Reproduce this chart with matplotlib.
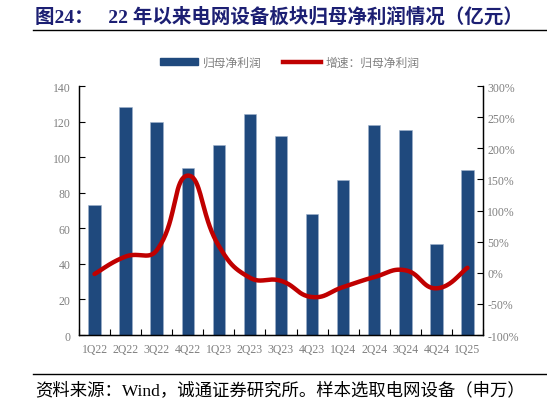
import numpy as np
import matplotlib.pyplot as plt
from matplotlib.lines import Line2D
from matplotlib.patches import Patch

quarters = ['1Q22', '2Q22', '3Q22', '4Q22', '1Q23', '2Q23', '3Q23',
            '4Q23', '1Q24', '2Q24', '3Q24', '4Q24', '1Q25']
profit = [73, 128, 120, 94, 107, 124, 112, 68, 87, 118, 115, 51, 93]
growth = [-2, 26, 36, 156, 43, -8, -13, -39, -23, -7, 4, -25, 8]

left_ticks = [0, 20, 40, 60, 80, 100, 120, 140]
right_ticks = [-100, -50, 0, 50, 100, 150, 200, 250, 300]

cjk = ['Liberation Serif', 'Noto Sans CJK SC']
sans = ['Noto Sans CJK SC', 'DejaVu Sans']
grey = '#808080'
bar_color = '#1F497D'
line_color = '#C00000'


def smooth_line(ax, x, y, k=0.46, n=40):
    # bezier smoothing done in screen space, control points scaled by
    # the length of the neighbouring segments (office style smooth line)
    pts = ax.transData.transform(np.column_stack([x, y]))
    m = len(pts)
    d = np.linalg.norm(np.diff(pts, axis=0), axis=1)
    out_cp = np.zeros_like(pts)
    in_cp = np.zeros_like(pts)
    for i in range(m):
        if i == 0:
            tang = pts[1] - pts[0]
            out_cp[i] = pts[i] + tang * k * 0.5
            continue
        if i == m - 1:
            tang = pts[-1] - pts[-2]
            in_cp[i] = pts[i] - tang * k * 0.5
            continue
        tang = pts[i + 1] - pts[i - 1]
        tot = d[i - 1] + d[i]
        out_cp[i] = pts[i] + tang * k * d[i] / tot
        in_cp[i] = pts[i] - tang * k * d[i - 1] / tot
    t = np.linspace(0, 1, n)[:, None]
    seg = []
    for i in range(m - 1):
        p0, p1, p2, p3 = pts[i], out_cp[i], in_cp[i + 1], pts[i + 1]
        seg.append((1 - t) ** 3 * p0 + 3 * (1 - t) ** 2 * t * p1 +
                   3 * (1 - t) * t ** 2 * p2 + t ** 3 * p3)
    curve = np.vstack(seg)
    return ax.transData.inverted().transform(curve)


fig = plt.figure(figsize=(5.47, 4.06), dpi=100)
ax = fig.add_axes([0.1444, 0.1724, 0.7386, 0.6133])
ax2 = ax.twinx()

x = np.arange(len(quarters))
ax.bar(x, profit, width=0.4, color=bar_color, edgecolor='#9fb3cc', linewidth=0.4, zorder=2)

ax.set_xlim(-0.5, len(quarters) - 0.5)
ax.set_ylim(0, 140)
ax.set_yticks(left_ticks)
ax2.set_ylim(-100, 300)
ax2.set_yticks(right_ticks)
ax2.set_yticklabels([f'{v}%' for v in right_ticks])

curve = smooth_line(ax2, x, growth)
ax2.plot(curve[:, 0], curve[:, 1], color=line_color, linewidth=3.2, solid_capstyle='round')

ax.set_xticks(x)
ax.set_xticklabels(quarters)
ax.set_xticks(np.arange(-0.5, len(quarters), 1), minor=True)
ax.tick_params(axis='x', which='major', length=0, pad=6)
ax.tick_params(axis='x', which='minor', direction='in', length=4, width=0.8)
ax.tick_params(axis='y', direction='in', length=4, width=0.8, pad=6)
ax2.tick_params(axis='y', direction='in', length=4, width=0.8, pad=3)

for a in (ax, ax2):
    a.spines['top'].set_visible(False)
    for s in ('left', 'right', 'bottom'):
        a.spines[s].set_linewidth(0.9)
    for lab in a.get_xticklabels() + a.get_yticklabels():
        lab.set_fontfamily('Liberation Serif')
        lab.set_fontsize(8.5)
        lab.set_color(grey)

handles = [Patch(color=bar_color), Line2D([0], [0], color=line_color, linewidth=3.2)]
leg = fig.legend(handles, ['归母净利润', '增速：归母净利润'], loc='center',
                 bbox_to_anchor=(0.53, 0.845), ncol=2, frameon=False,
                 prop={'family': sans, 'size': 8.5}, handlelength=3.2,
                 handleheight=0.5, columnspacing=1.8, handletextpad=0.4)
for t in leg.get_texts():
    t.set_color(grey)

fig.text(0.064, 0.958, '图24：   22 年以来电网设备板块归母净利润情况（亿元）',
         family=cjk, fontsize=14, fontweight='bold', color='#1c1f73',
         ha='left', va='center')
fig.add_artist(Line2D([0.06, 1.0], [0.924, 0.924], color='black', linewidth=1))
fig.add_artist(Line2D([0.06, 1.0], [0.077, 0.077], color='black', linewidth=1))
fig.text(0.064, 0.038, '资料来源：Wind，诚通证券研究所。样本选取电网设备（申万）',
         family=cjk, fontsize=12.5, color='black', ha='left', va='center')

fig.savefig('out.png', dpi=100)
